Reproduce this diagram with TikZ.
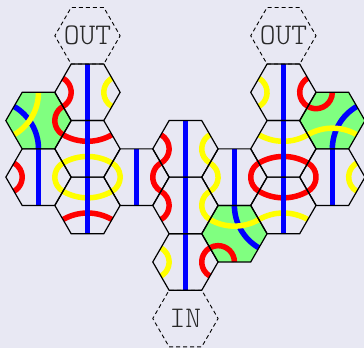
\documentclass[tikz,border=0pt]{standalone}
\usetikzlibrary{shapes.geometric,calc}
\definecolor{bgc}{RGB}{232,232,243}
\definecolor{tgreen}{RGB}{128,255,128}
\definecolor{tred}{RGB}{255,0,0}
\definecolor{tyel}{RGB}{255,255,0}
\definecolor{tblue}{RGB}{0,0,255}
\definecolor{ink}{RGB}{40,40,40}
\pgfdeclarelayer{fills}
\pgfdeclarelayer{bands}
\pgfsetlayers{fills,bands,main}
\newcommand\Rad{32.65}
\newcommand\Hh{28.275}
\newcommand\greenfill[1]{\fill[tgreen] ($(#1)+(0:\Rad)$) -- ($(#1)+(60:\Rad)$) -- ($(#1)+(120:\Rad)$) -- ($(#1)+(180:\Rad)$) -- ($(#1)+(240:\Rad)$) -- ($(#1)+(300:\Rad)$) -- cycle;}
\newcommand\smallband[3]{\draw[band,#3] ($(#1)+(#2:\Rad)+(#2+120:\Rad/2)$) arc[start angle=#2+120,end angle=#2+240,radius=\Rad/2];}
\newcommand\largeband[3]{\draw[band,#3] ($(#1)+(#2:2*\Hh)+(#2+150:1.5*\Rad)$) arc[start angle=#2+150,end angle=#2+210,radius=1.5*\Rad];}
\newcommand\straightband[2]{\draw[band,#2] ($(#1)+(0,\Hh)$) -- ($(#1)+(0,-\Hh)$);}
\tikzset{
  tile/.style={regular polygon,regular polygon sides=6,minimum size=65.3pt,inner sep=0pt,outer sep=0pt,draw=black,line width=1.2pt},
  port/.style={regular polygon,regular polygon sides=6,minimum size=65.3pt,inner sep=0pt,outer sep=0pt,draw=black,line width=0.9pt,dash pattern=on 4pt off 3pt},
  porttext/.style={font=\ttfamily\fontseries{l}\fontsize{30}{30}\selectfont,text=ink,inner sep=0pt},
  band/.style={line width=5.5pt}
}
\begin{document}
\begin{tikzpicture}[x=1pt,y=1pt]
\useasboundingbox (0,0) rectangle (364,348);
% tiles
\node[port] (B0) at ({38.5+48.975*1},{340.5-28.275*1}) {};
\node[port] (F0) at ({38.5+48.975*5},{340.5-28.275*1}) {};
\node[port] (D4) at ({38.5+48.975*3},{340.5-28.275*11}) {};
\node[porttext] (B0t) at (B0) {OUT};
\node[porttext] (F0t) at (F0) {OUT};
\node[porttext] (D4t) at (D4) {IN};
\node[tile] (A1) at ({38.5+48.975*0},{340.5-28.275*4}) {};
\node[tile] (A2) at ({38.5+48.975*0},{340.5-28.275*6}) {};
\node[tile] (B1) at ({38.5+48.975*1},{340.5-28.275*3}) {};
\node[tile] (B2) at ({38.5+48.975*1},{340.5-28.275*5}) {};
\node[tile] (B3) at ({38.5+48.975*1},{340.5-28.275*7}) {};
\node[tile] (C1) at ({38.5+48.975*2},{340.5-28.275*6}) {};
\node[tile] (D1) at ({38.5+48.975*3},{340.5-28.275*5}) {};
\node[tile] (D2) at ({38.5+48.975*3},{340.5-28.275*7}) {};
\node[tile] (D3) at ({38.5+48.975*3},{340.5-28.275*9}) {};
\node[tile] (E1) at ({38.5+48.975*4},{340.5-28.275*6}) {};
\node[tile] (E2) at ({38.5+48.975*4},{340.5-28.275*8}) {};
\node[tile] (F1) at ({38.5+48.975*5},{340.5-28.275*3}) {};
\node[tile] (F2) at ({38.5+48.975*5},{340.5-28.275*5}) {};
\node[tile] (F3) at ({38.5+48.975*5},{340.5-28.275*7}) {};
\node[tile] (G1) at ({38.5+48.975*6},{340.5-28.275*4}) {};
\node[tile] (G2) at ({38.5+48.975*6},{340.5-28.275*6}) {};
\begin{pgfonlayer}{fills}
\fill[bgc] (0,0) rectangle (364,348);
\greenfill{A1}
\greenfill{E2}
\greenfill{G1}
\end{pgfonlayer}
\begin{pgfonlayer}{bands}
% blue curves in the green tiles
\largeband{A1}{210}{tblue}
\largeband{E2}{30}{tblue}
\largeband{G1}{330}{tblue}
% red and yellow paths
\largeband{A1}{150}{tyel}
\smallband{A1}{0}{tred}
\smallband{A2}{180}{tred}
\smallband{A2}{0}{tyel}
\smallband{B1}{180}{tred}
\smallband{B1}{0}{tyel}
\largeband{B2}{90}{tred}
\largeband{B2}{270}{tyel}
\largeband{B3}{90}{tyel}
\largeband{B3}{270}{tred}
\smallband{C1}{180}{tyel}
\smallband{C1}{0}{tred}
\smallband{D1}{180}{tred}
\smallband{D1}{0}{tyel}
\smallband{D2}{180}{tred}
\smallband{D2}{0}{tyel}
\smallband{D3}{180}{tyel}
\smallband{D3}{0}{tred}
\smallband{E1}{180}{tyel}
\smallband{E1}{0}{tred}
\largeband{E2}{90}{tyel}
\smallband{E2}{240}{tred}
\smallband{F1}{180}{tyel}
\smallband{F1}{0}{tred}
\largeband{F2}{90}{tyel}
\largeband{F2}{270}{tred}
\largeband{F3}{90}{tred}
\largeband{F3}{270}{tyel}
\smallband{G1}{120}{tred}
\largeband{G1}{270}{tyel}
\smallband{G2}{180}{tred}
\smallband{G2}{0}{tyel}
% blue straight paths
\straightband{A2}{tblue}
\straightband{B1}{tblue}
\straightband{B2}{tblue}
\straightband{B3}{tblue}
\straightband{C1}{tblue}
\straightband{D1}{tblue}
\straightband{D2}{tblue}
\straightband{D3}{tblue}
\straightband{E1}{tblue}
\straightband{F1}{tblue}
\straightband{F2}{tblue}
\straightband{F3}{tblue}
\straightband{G2}{tblue}
\end{pgfonlayer}
\end{tikzpicture}
\end{document}
